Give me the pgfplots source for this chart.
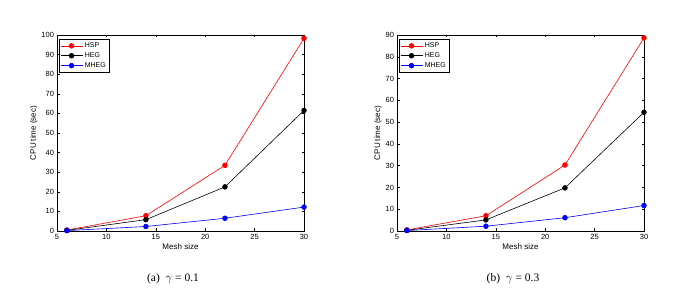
\documentclass[border=0pt]{standalone}
\usepackage{fontspec}
\setmainfont{Liberation Serif}
\newfontfamily\arial{Liberation Sans}
\usepackage{pgfplots}
\pgfplotsset{compat=1.18}
\pgfplotstableread{
x hsp heg mheg
6 0.5 0.3 0.2
14 7.8 5.8 2.3
22 33.5 22.5 6.5
30 98.3 61.5 12.2
}\dataA
\pgfplotstableread{
x hsp heg mheg
6 0.5 0.3 0.2
14 7.0 5.1 2.2
22 30.3 19.8 6.1
30 88.7 54.5 11.7
}\dataB
\pgfplotsset{
  matstyle/.style={
    scale only axis, width=247pt, height=196pt,
    xmin=5, xmax=30, ymin=0,
    xtick={5,10,...,30},
    tick align=inside, tick pos=both,
    major tick length=2.5pt,
    axis line style={line width=0.5pt},
    every tick/.style={line width=0.4pt, black},
    tick label style={font=\arial\fontsize{7.5}{8}\selectfont},
    yticklabel style={xshift=0.5pt},
    label style={font=\arial\fontsize{8}{9}\selectfont},
    /pgf/number format/assume math mode=true,
    xlabel={Mesh size}, ylabel={CPU time (sec)},
    xlabel style={yshift=3pt},
    ylabel style={yshift=-3pt},
    legend cell align=left,
    legend style={font=\arial\fontsize{7}{8}\selectfont, draw=black, line width=0.5pt,
      inner xsep=1pt, inner ysep=1.5pt, row sep=-0.5pt, at={(0.008,0.98)}, anchor=north west},
    legend image code/.code={
      \draw[#1] (-1pt,0pt) -- (21pt,0pt);
      \draw[#1, only marks] plot coordinates {(10pt,0pt)};
    },
    every axis plot/.append style={line width=0.6pt, mark=*, mark size=2.4pt},
  }
}
\begin{document}
\begin{tikzpicture}[x=1pt,y=1pt]
\path[use as bounding box] (0,0) rectangle (681,294);
\begin{axis}[matstyle, at={(57pt,63pt)}, anchor=south west, ymax=100, ytick={0,10,...,100}]
\addplot[red, mark options={fill=red}] table[x=x,y=hsp]{\dataA};
\addlegendentry{HSP}
\addplot[black, mark options={fill=black}] table[x=x,y=heg]{\dataA};
\addlegendentry{HEG}
\addplot[blue, mark options={fill=blue}] table[x=x,y=mheg]{\dataA};
\addlegendentry{MHEG}
\end{axis}
\begin{axis}[matstyle, at={(397pt,63pt)}, anchor=south west, ymax=90, ytick={0,10,...,90}]
\addplot[red, mark options={fill=red}] table[x=x,y=hsp]{\dataB};
\addlegendentry{HSP}
\addplot[black, mark options={fill=black}] table[x=x,y=heg]{\dataB};
\addlegendentry{HEG}
\addplot[blue, mark options={fill=blue}] table[x=x,y=mheg]{\dataB};
\addlegendentry{MHEG}
\end{axis}
\node[font=\fontsize{11.5}{13}\selectfont] at (173,15) {(a)\ \ $\gamma$ = 0.1};
\node[font=\fontsize{11.5}{13}\selectfont] at (513,15) {(b)\ \ $\gamma$ = 0.3};
\end{tikzpicture}
\end{document}
